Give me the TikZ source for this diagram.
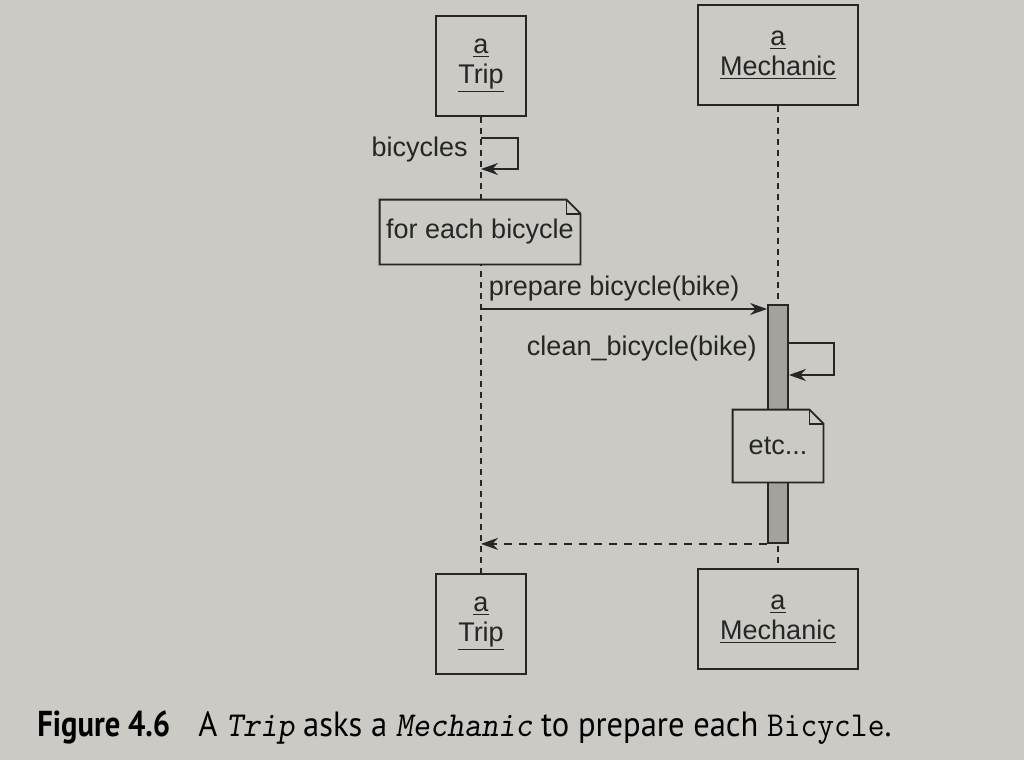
\documentclass[tikz,border=0pt]{standalone}
\usepackage{fontspec}
\setmainfont{Liberation Sans}
\newfontfamily\capfont{PT Sans}
\usetikzlibrary{positioning,arrows.meta,backgrounds}
\definecolor{pagegray}{HTML}{CBCAC4}
\definecolor{inkgray}{HTML}{262626}
\definecolor{barfill}{HTML}{A3A29D}

% dog-eared note outline, drawn round a named node
\newcommand{\dogear}[1]{%
  \draw[inkgray,line width=0.9pt,fill=pagegray]
    (#1.south west) -- (#1.north west) -- ([xshift=-7pt]#1.north east)
    -- ([yshift=-7pt]#1.north east) -- (#1.south east) -- cycle;
  \draw[inkgray,line width=0.9pt]
    ([xshift=-7pt]#1.north east) |- ([yshift=-7pt]#1.north east);}

\begin{document}
\begin{tikzpicture}[
    x=0.5pt,y=-0.5pt,
    every node/.style={font=\fontsize{13.5}{15}\selectfont,text=inkgray},
    objbox/.style={rectangle,draw=inkgray,line width=0.9pt,fill=pagegray,
      align=center,minimum height=50pt,inner sep=2pt},
    memo/.style={rectangle,fill=pagegray,align=center,inner sep=3pt},
    actbar/.style={rectangle,draw=inkgray,line width=0.9pt,fill=barfill,
      minimum width=10pt,inner sep=0pt},
    lifeline/.style={inkgray,line width=0.75pt,dash pattern=on 3pt off 2.5pt},
    msg/.style={-{Stealth[length=8.5pt,width=6pt]},inkgray,line width=0.9pt},
    reply/.style={msg,dash pattern=on 4pt off 3.5pt},
    caption/.style={anchor=base west,inner sep=0pt,text=black},
  ]
  \begin{pgfonlayer}{background}
    \fill[pagegray] (0,0) rectangle (1024,760);
  \end{pgfonlayer}
  \node[objbox,minimum width=45pt] (tripTop) at (481,66) {\underline{a}\\\underline{Trip}};
  \node[objbox,minimum width=80pt] (mechTop) at (778,55) {\underline{a}\\\underline{Mechanic}};
  \node[objbox,minimum width=45pt] (tripBot) at (481,624) {\underline{a}\\\underline{Trip}};
  \node[objbox,minimum width=80pt] (mechBot) at (778,619) {\underline{a}\\\underline{Mechanic}};
  \begin{pgfonlayer}{background}
    \draw[lifeline] (tripTop.south) -- (tripBot.north);
    \draw[lifeline] (mechTop.south) -- (mechBot.north);
  \end{pgfonlayer}
  \node[actbar,minimum height=119pt] (bar) at (778,424) {};
  % Trip asks itself for its bicycles
  \coordinate (selfA) at (481,138);
  \coordinate (selfB) at (481,169);
  \draw[msg] (selfA) -- ++(37,0) |- (selfB);
  \node[anchor=base east,inner sep=0pt] (bicyclesLbl) at (468,156) {bicycles};
  \node[memo,minimum width=100pt,minimum height=32pt] (loopNote) at (480,232) {for each bicycle};
  \dogear{loopNote}
  \node at (loopNote) {for each bicycle};
  % Trip -> Mechanic
  \coordinate (prep) at (481,309);
  \draw[msg] (prep) -- (prep -| bar.west) node[pos=0,above right,inner sep=3.5pt] (prepLbl) {prepare bicycle(bike)};
  \coordinate (cleanA) at (bar.east |- 0,343);
  \coordinate (cleanB) at (bar.east |- 0,375);
  \draw[msg] (cleanA) -- ++(45,0) |- (cleanB);
  \node[anchor=base east,inner sep=0pt] (cleanLbl) at (757,355) {clean\_bicycle(bike)};
  \node[memo,minimum width=45pt,minimum height=36pt] (etcNote) at (778,446) {etc...};
  \dogear{etcNote}
  \node at (etcNote) {etc...};
  \draw[reply] (bar.south west) -- (bar.south west -| tripTop.south);
  % caption
  \node[caption,font=\capfont\fontsize{18}{20}\selectfont\bfseries] (figNo) at (37,736)
    {\scalebox{0.85}[1]{Figure 4.6}};
  \node[caption,font=\capfont\fontsize{17.5}{20}\selectfont] (capText) at (198,736)
    {\scalebox{0.93}[1]{A {\ttfamily\slshape Trip} asks a {\ttfamily\slshape Mechanic} to prepare each {\ttfamily Bicycle}.}};
\end{tikzpicture}
\end{document}
